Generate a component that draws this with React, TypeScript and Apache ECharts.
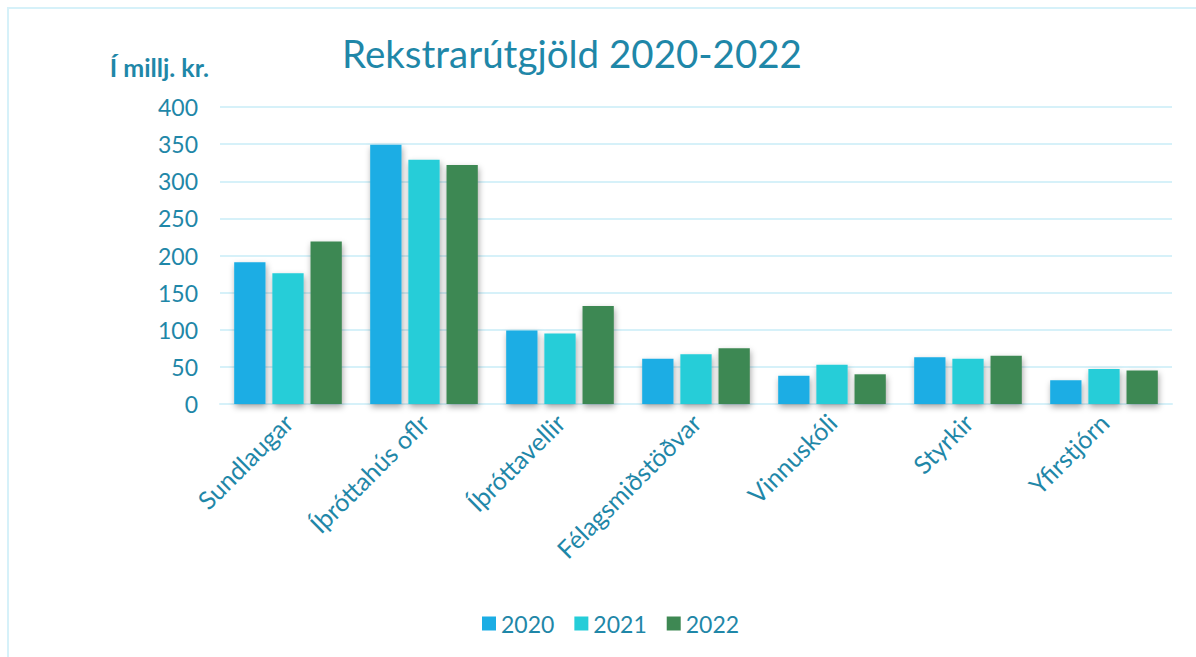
import React, { useEffect, useRef } from "react";
import * as echarts from "echarts";

const categories = ["Sundlaugar", "Íþróttahús oflr", "Íþróttavellir", "Félagsmiðstöðvar", "Vinnuskóli", "Styrkir", "Yfirstjórn"];
const seriesNames = ["2020", "2021", "2022"];
const values2020 = [191, 349, 99, 61, 38, 63, 32];
const values2021 = [176, 329, 95, 67, 53, 61, 47];
const values2022 = [219, 322, 132, 75, 40, 65, 45];
const colors = ["#1BADE4", "#25CDD8", "#3E8853"];
const textColor = "#1F87A8";
const lineColor = "#D6F1F9";
const fontFamily = "Lato, 'Open Sans', sans-serif";

export default function App() {
  const ref = useRef<HTMLDivElement>(null);
  useEffect(() => {
    const chart = echarts.init(ref.current!, null, { renderer: "svg" });
    const data = [values2020, values2021, values2022];
    chart.setOption({
      animation: false,
      backgroundColor: "#ffffff",
      title: {
        text: "Rekstrarútgjöld 2020-2022",
        left: 567,
        top: 28,
        textAlign: "center",
        textStyle: { color: textColor, fontSize: 38.5, fontWeight: "normal", fontFamily },
      },
      graphic: [
        {
          type: "rect",
          shape: { x: 8, y: 8, width: 1200, height: 700 },
          style: { fill: "none", stroke: lineColor, lineWidth: 2 },
          silent: true,
        },
        {
          type: "text",
          x: 209,
          y: 67,
          style: {
            text: "Í millj. kr.",
            fill: textColor,
            font: `bold 25px ${fontFamily}`,
            textAlign: "right",
            textVerticalAlign: "middle",
          },
        },
      ],
      legend: {
        data: seriesNames,
        left: 482,
        top: 612,
        padding: 0,
        icon: "rect",
        itemWidth: 14,
        itemHeight: 14,
        itemGap: 20,
        textStyle: { color: textColor, fontSize: 23, fontFamily },
      },
      grid: { left: 220, right: 24, top: 107, bottom: 253, containLabel: false },
      xAxis: {
        type: "category",
        data: categories,
        axisLine: { lineStyle: { color: lineColor, width: 2 } },
        axisTick: { show: false },
        axisLabel: {
          rotate: 45,
          color: textColor,
          fontSize: 25,
          fontFamily,
          margin: 14,
          interval: 0,
        },
      },
      yAxis: {
        type: "value",
        min: 0,
        max: 400,
        interval: 50,
        axisLine: { show: false },
        axisTick: { show: false },
        splitLine: { lineStyle: { color: lineColor, width: 2 } },
        axisLabel: { color: textColor, fontSize: 23, fontFamily, margin: 22 },
      },
      series: seriesNames.map((name, i) => ({
        name,
        type: "bar",
        data: data[i],
        barWidth: "23%",
        barGap: "22%",
        itemStyle: {
          color: colors[i],
          shadowColor: "rgba(0,0,0,0.35)",
          shadowBlur: 6,
          shadowOffsetX: 1,
          shadowOffsetY: 3,
        },
      })),
    });
    return () => chart.dispose();
  }, []);
  return <div ref={ref} style={{ position: "fixed", left: 0, top: 0, width: 1196, height: 657 }} />;
}
